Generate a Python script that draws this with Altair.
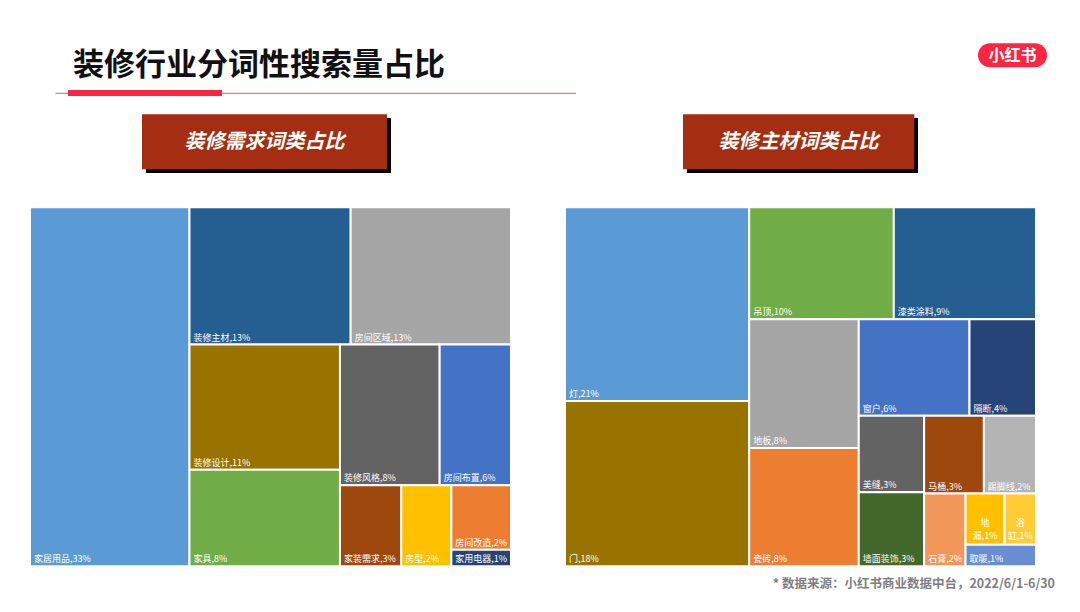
import altair as alt
import pandas as pd

# ---------------- data ----------------
left_names = ["家居用品", "装修主材", "房间区域", "装修设计", "家具", "装修风格",
              "房间布置", "家装需求", "房型", "房间改造", "家用电器"]
left_values = [33.16, 12.82, 12.75, 10.90, 8.42, 8.12, 5.81, 2.88, 2.35, 2.23, 0.57]
left_colors = ["#5B9BD5", "#255E91", "#A5A5A5", "#997300", "#70AD47", "#636363",
               "#4472C4", "#9E480E", "#FFC000", "#ED7D31", "#264478"]

right_names = ["灯", "门", "吊顶", "漆类涂料", "地板", "瓷砖", "窗户", "隔断", "美缝",
               "墙面装饰", "马桶", "踢脚线", "石膏", "地漏", "浴缸", "取暖"]
right_values = [21.10, 18.00, 9.58, 9.42, 8.33, 7.67, 6.31, 3.79, 2.96,
                2.86, 2.75, 2.40, 1.78, 1.18, 0.95, 0.90]
right_colors = ["#5B9BD5", "#997300", "#70AD47", "#255E91", "#A5A5A5", "#ED7D31",
                "#4472C4", "#264478", "#636363", "#43682B", "#9E480E", "#B4B4B4",
                "#F1975A", "#FFC000", "#FFCD33", "#698ED0"]

title_text = "装修行业分词性搜索量占比"
left_header = "装修需求词类占比"
right_header = "装修主材词类占比"
badge_text = "小红书"
source_text = "* 数据来源：小红书商业数据中台，2022/6/1-6/30"

FONT = "Noto Sans CJK SC"
LABEL_FS = 9
LINE_H = 13

# ---------------- treemap layout (squarified, Excel-like tolerance) ----------------
def squarify(vals, W, H, k=0.965):
    total = sum(vals)
    areas = [v / total * W * H for v in vals]
    x, y, w, h = 0.0, 0.0, float(W), float(H)
    out = []

    def worst(row, side):
        s = sum(row)
        return max(max(side * side * r / (s * s), s * s / (side * side * r)) for r in row)

    i, n = 0, len(areas)
    while i < n:
        side = min(w, h)
        row = [areas[i]]
        j = i + 1
        while j < n and worst(row + [areas[j]], side) < k * worst(row, side):
            row.append(areas[j])
            j += 1
        s = sum(row)
        if w >= h:
            cw = s / h
            yy = y
            for a in row:
                rh = a / cw
                out.append((x, yy, x + cw, yy + rh))
                yy += rh
            x += cw
            w -= cw
        else:
            rh = s / w
            xx = x
            for a in row:
                rw = a / rh
                out.append((xx, y, xx + rw, y + rh))
                xx += rw
            y += rh
            h -= rh
        i = j
    return out


def est_width(s, fs):
    wsum = 0.0
    for c in s:
        if ord(c) > 0x2E80:
            wsum += fs
        elif c == ",":
            wsum += 0.25 * fs
        elif c == "%":
            wsum += 0.85 * fs
        else:
            wsum += 0.55 * fs
    return wsum


def build_df(names, values, W, H):
    rects = squarify(values, W, H)
    rows = []
    for nm, v, (x0, y0, x1, y1) in zip(names, values, rects):
        lab = f"{nm},{round(v)}%"
        wrap = (x1 - x0) < est_width(lab, LABEL_FS) + 7
        if wrap:
            half = max(1, len(nm) // 2)
            lab2 = nm[:half] + "\n" + nm[half:] + f",{round(v)}%"
        else:
            lab2 = lab
        rows.append(dict(name=nm, x0=x0, y0=y0, x1=x1, y1=y1,
                         xc=(x0 + x1) / 2, label=lab2, wrap=wrap))
    return pd.DataFrame(rows)


def treemap(names, values, colors, W, H, left, top):
    df = build_df(names, values, W, H)
    xs = alt.Scale(domain=[0, W], range=[left, left + W], nice=False, zero=False)
    ys = alt.Scale(domain=[0, H], range=[top, top + H], nice=False, zero=False)
    rects = alt.Chart(df).mark_rect(stroke="white", strokeWidth=2).encode(
        x=alt.X("x0:Q", scale=xs, axis=None),
        x2="x1:Q",
        y=alt.Y("y0:Q", scale=ys, axis=None),
        y2="y1:Q",
        color=alt.Color("name:N", scale=alt.Scale(domain=names, range=colors), legend=None),
    )
    labels = alt.Chart(df).transform_filter("!datum.wrap").mark_text(
        align="left", baseline="bottom", dx=4, dy=-2, font=FONT,
        fontSize=LABEL_FS, color="white"
    ).encode(x=alt.X("x0:Q", scale=xs, axis=None),
             y=alt.Y("y1:Q", scale=ys, axis=None), text="label:N")
    wrapped = alt.Chart(df).transform_filter("datum.wrap").mark_text(
        align="center", baseline="bottom", dy=-(4 + LINE_H), font=FONT, fontSize=LABEL_FS,
        color="white", lineBreak="\n", lineHeight=LINE_H
    ).encode(x=alt.X("xc:Q", scale=xs, axis=None),
             y=alt.Y("y1:Q", scale=ys, axis=None), text="label:N")
    return alt.layer(rects, labels, wrapped)


one = pd.DataFrame({"k": [0]})


def box(x0, x1, y0, y1, color, **kw):
    return alt.Chart(one).mark_rect(color=color, **kw).encode(
        x=alt.value(x0), x2=alt.value(x1), y=alt.value(y0), y2=alt.value(y1))


def label(text, x, y, **kw):
    return alt.Chart(pd.DataFrame({"t": [text]})).mark_text(font=FONT, **kw).encode(
        x=alt.value(x), y=alt.value(y), text="t:N")


TOP = 199.3
H = 359.0

deco = [
    label(title_text, 65, 57.5, align="left", baseline="middle", fontSize=31,
          fontWeight="bold", color="#111111"),
    alt.Chart(one).mark_rule(color="#f0566a", strokeWidth=1).encode(
        x=alt.value(47.5), x2=alt.value(568), y=alt.value(85.3)),
    box(60, 214, 82, 88, "#ff2442"),
    box(138, 383, 110, 165, "#000000"),
    box(134, 379, 106.3, 161.3, "#a52e12"),
    label(left_header, 256.5, 134, align="center", baseline="middle", fontSize=20,
          fontWeight="bold", fontStyle="italic", color="white"),
    box(679, 910, 110, 165, "#000000"),
    box(675, 906.3, 106.3, 161.3, "#a52e12"),
    label(right_header, 790.5, 134, align="center", baseline="middle", fontSize=20,
          fontWeight="bold", fontStyle="italic", color="white"),
    box(970, 1039, 35.3, 59.3, "#ff2442", cornerRadius=12),
    label(badge_text, 1004.5, 47.5, align="center", baseline="middle", fontSize=16,
          fontWeight="bold", color="white"),
    label(source_text, 1047, 576, align="right", baseline="middle", fontSize=12.5,
          fontWeight="bold", color="#7f7f7f"),
]

left_tm = treemap(left_names, left_values, left_colors, 481, H, 22, TOP)
right_tm = treemap(right_names, right_values, right_colors, 471, H, 557, TOP)

chart = alt.layer(*deco, left_tm, right_tm).resolve_scale(
    x="independent", y="independent", color="independent"
).properties(
    width=1064, height=596, padding=0,
    autosize=alt.AutoSizeParams(type="none"),
    background="white",
).configure_view(stroke=None)

chart.save("out.html", embed_options={"renderer": "svg", "actions": False})
